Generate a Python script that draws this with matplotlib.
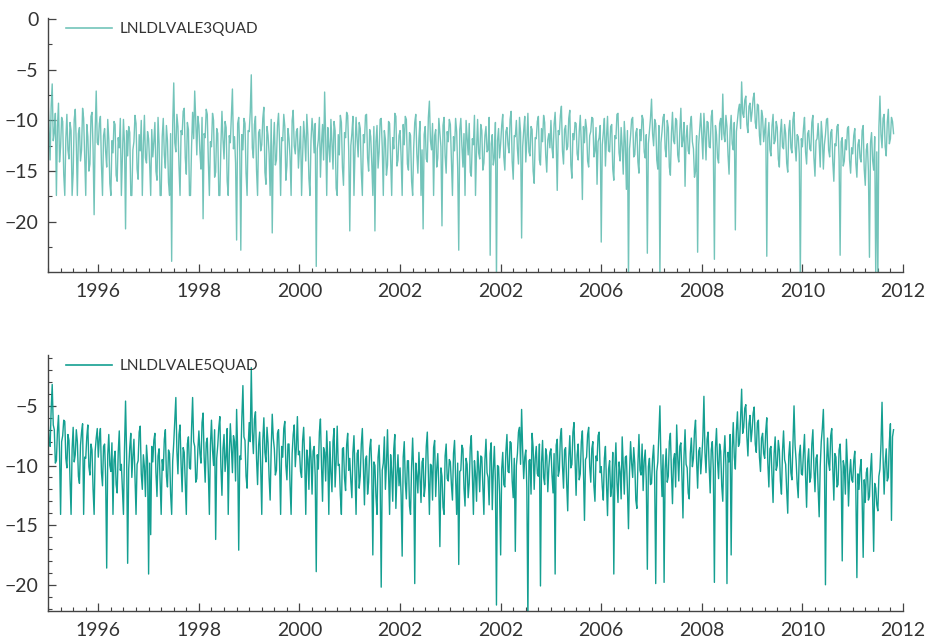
import numpy as np
import matplotlib
matplotlib.use("Agg")
import matplotlib.pyplot as plt
from matplotlib.ticker import MultipleLocator, FixedLocator

plt.rcParams['font.family'] = ['Lato', 'DejaVu Sans']

# LNLDLVALE3QUAD, ~48 readings per year
t1995 = [-7.8, -10.9, -13.9, -8.6, -6.4, -12.0, -11.2, -9.3, -17.4, -10.6, -8.3, -14.1,
         -12.6, -9.7, -10.1, -15.3, -17.4, -11.8, -9.4, -12.9, -13.8, -10.2, -11.0, -17.4,
         -15.2, -9.9, -8.9, -12.4, -17.4, -11.3, -10.7, -14.0, -12.9, -8.8, -9.8, -13.5,
         -17.4, -10.4, -11.6, -15.0, -14.3, -9.6, -9.2, -12.8, -19.3, -11.1, -7.1, -12.2]
t1996 = [-12.4, -10.3, -9.6, -14.4, -17.4, -11.5, -10.8, -13.1, -14.6, -9.9, -11.9, -16.2,
         -17.4, -12.0, -13.2, -10.1, -10.4, -15.4, -16.0, -11.7, -12.7, -9.8, -17.4, -13.6,
         -9.9, -12.3, -20.7, -11.0, -13.5, -10.6, -11.2, -17.4, -17.4, -12.9, -12.1, -9.5,
         -10.3, -14.8, -15.8, -11.4, -13.0, -10.0, -17.4, -12.5, -9.5, -13.7, -14.2, -11.1]
t1997 = [-11.8, -14.3, -17.4, -10.9, -13.6, -12.1, -10.2, -15.0, -15.9, -9.7, -12.3, -17.4,
         -17.4, -11.6, -9.8, -13.4, -14.7, -10.5, -12.0, -16.1, -17.4, -11.3, -23.9, -10.4,
         -6.3, -12.2, -13.1, -9.4, -10.6, -14.5, -17.4, -11.0, -11.4, -9.1, -8.8, -13.7,
         -15.3, -10.2, -10.9, -17.4, -17.4, -12.6, -9.2, -11.8, -7.1, -10.0, -13.4, -9.6]
t1998 = [-10.5, -13.2, -14.8, -9.7, -19.7, -11.3, -11.7, -8.9, -9.4, -14.0, -17.4, -12.1,
         -12.6, -9.3, -10.0, -15.6, -15.1, -10.8, -11.3, -17.4, -17.4, -12.4, -9.1, -11.9,
         -13.8, -10.1, -10.7, -16.0, -17.4, -11.5, -12.2, -9.6, -6.9, -12.8, -11.6, -14.2,
         -21.8, -10.3, -9.7, -13.1, -22.8, -11.4, -12.9, -9.8, -10.3, -15.2, -17.4, -11.0]
t1999 = [-11.1, -9.2, -5.5, -12.7, -13.7, -10.4, -9.6, -14.9, -17.4, -11.2, -10.9, -13.0,
         -12.4, -9.8, -8.7, -15.1, -16.3, -10.6, -11.5, -13.3, -17.4, -9.9, -21.1, -12.6,
         -10.2, -14.4, -13.9, -10.5, -9.3, -12.2, -17.4, -11.7, -12.0, -9.4, -10.6, -15.9,
         -14.5, -10.8, -11.8, -13.6, -17.4, -10.0, -9.0, -12.5, -13.3, -11.1, -10.8, -14.7]
t2000 = [-12.7, -10.6, -17.4, -13.5, -10.1, -11.8, -14.0, -9.4, -11.4, -15.7, -17.4, -12.0,
         -9.8, -11.1, -13.2, -10.3, -24.4, -12.8, -11.9, -9.7, -15.6, -12.3, -10.4, -13.9,
         -7.2, -11.6, -17.4, -10.7, -12.5, -14.1, -9.9, -12.2, -14.8, -10.1, -11.0, -16.7,
         -17.4, -11.4, -13.4, -9.5, -10.2, -14.6, -16.4, -11.2, -11.7, -9.2, -9.5, -13.0]
t2001 = [-20.9, -12.5, -11.3, -9.6, -17.4, -13.0, -9.7, -11.8, -13.6, -10.2, -10.8, -15.1,
         -17.4, -11.4, -12.2, -9.5, -9.4, -13.7, -15.0, -10.9, -11.6, -14.2, -17.4, -10.6,
         -20.9, -12.1, -10.5, -14.7, -13.1, -9.9, -9.8, -12.7, -17.4, -11.0, -11.9, -15.4,
         -14.4, -10.1, -10.3, -13.8, -17.4, -11.7, -12.8, -9.3, -9.6, -14.5, -13.9, -11.5]
t2002 = [-11.0, -13.6, -17.4, -10.4, -12.4, -9.6, -9.9, -14.3, -14.9, -11.2, -11.5, -16.0,
         -17.4, -12.7, -10.2, -9.4, -13.3, -15.2, -11.8, -10.1, -17.4, -12.9, -20.7, -11.4,
         -10.6, -13.8, -14.1, -9.7, -8.1, -12.0, -12.9, -10.3, -17.4, -11.5, -10.9, -14.6,
         -13.7, -9.8, -11.2, -12.6, -20.4, -10.5, -9.7, -13.5, -15.2, -11.1, -12.1, -9.9]
t2003 = [-10.4, -13.9, -17.4, -11.6, -13.0, -9.8, -11.1, -14.7, -22.8, -10.9, -9.8, -12.5,
         -14.6, -11.3, -17.4, -10.0, -11.7, -13.4, -10.3, -15.1, -15.5, -11.8, -12.4, -9.5,
         -17.4, -12.8, -9.9, -13.2, -13.8, -10.4, -11.0, -14.9, -14.2, -11.5, -10.6, -13.1,
         -12.9, -9.7, -23.3, -12.3, -11.4, -14.4, -13.6, -10.2, -25.6, -12.0, -10.8, -13.7]
t2004 = [-12.3, -10.5, -9.4, -13.6, -14.9, -11.1, -10.7, -12.4, -13.2, -9.9, -9.1, -14.0,
         -15.8, -11.5, -11.6, -10.0, -12.8, -14.3, -9.7, -11.2, -21.6, -12.6, -11.0, -9.6,
         -14.1, -12.0, -9.3, -13.1, -13.5, -10.6, -10.9, -15.0, -16.2, -11.7, -11.8, -10.1,
         -9.6, -13.9, -14.4, -10.8, -12.1, -9.5, -10.2, -13.4, -15.1, -11.9, -11.3, -12.7]
t2005 = [-10.0, -12.7, -13.7, -10.4, -9.2, -12.1, -16.9, -11.0, -11.4, -9.5, -8.6, -13.0,
         -14.3, -10.9, -10.5, -12.9, -12.6, -9.8, -9.0, -14.4, -15.7, -11.3, -11.9, -10.2,
         -10.3, -13.3, -13.9, -11.1, -9.5, -12.4, -17.8, -10.6, -12.2, -9.9, -10.8, -14.0,
         -14.6, -11.5, -11.1, -9.7, -9.8, -13.6, -13.0, -10.7, -16.3, -12.1, -11.7, -10.5]
t2006 = [-22.0, -12.4, -11.2, -9.8, -14.5, -11.7, -9.6, -13.0, -13.1, -10.6, -10.4, -14.8,
         -15.9, -11.5, -11.8, -9.4, -9.3, -13.2, -14.0, -10.7, -12.6, -15.3, -10.1, -12.2,
         -16.8, -11.0, -25.6, -12.8, -11.5, -9.9, -9.7, -13.6, -13.4, -11.2, -10.8, -14.1,
         -15.2, -10.9, -12.0, -9.5, -9.9, -13.1, -13.7, -11.4, -23.1, -12.3, -11.0, -9.8]
t2007 = [-7.9, -11.3, -12.5, -9.9, -10.3, -13.9, -14.8, -10.5, -25.6, -12.2, -11.1, -9.7,
         -9.4, -12.8, -13.6, -10.0, -10.7, -14.6, -15.4, -11.3, -9.2, -12.0, -12.3, -9.8,
         -10.0, -13.4, -14.1, -11.0, -8.8, -12.6, -11.9, -10.2, -16.5, -11.7, -10.5, -13.0,
         -13.3, -10.4, -9.6, -12.1, -12.8, -15.6, -15.0, -11.5, -23.0, -12.4, -10.9, -9.3]
t2008 = [-11.6, -13.8, -9.3, -11.2, -13.9, -10.1, -10.2, -12.6, -12.7, -9.6, -9.0, -12.9,
         -23.7, -10.5, -11.4, -13.7, -14.2, -10.3, -9.8, -11.9, -7.4, -11.3, -12.1, -9.5,
         -10.6, -13.4, -15.3, -11.0, -9.5, -12.3, -12.9, -10.2, -20.8, -11.1, -10.0, -8.9,
         -8.4, -10.8, -6.2, -9.3, -9.7, -8.0, -7.6, -10.4, -11.2, -8.6, -8.3, -10.1]
t2009 = [-9.1, -7.8, -7.3, -10.2, -10.8, -8.4, -8.5, -11.5, -12.4, -9.0, -9.6, -12.1,
         -11.0, -9.8, -23.4, -11.7, -10.2, -12.9, -13.5, -10.5, -9.4, -12.3, -12.0, -10.1,
         -10.7, -13.8, -14.6, -11.2, -9.9, -12.6, -12.8, -10.4, -11.3, -14.2, -15.1, -11.0,
         -10.0, -12.7, -13.2, -9.9, -9.2, -12.5, -14.0, -11.4, -11.6, -13.3, -25.6, -11.8]
t2010 = [-12.6, -10.8, -9.7, -13.1, -14.3, -11.3, -11.0, -12.8, -13.0, -10.2, -9.5, -13.7,
         -15.5, -12.0, -11.8, -10.3, -12.2, -14.6, -10.1, -11.6, -14.8, -12.4, -11.4, -9.9,
         -9.8, -12.9, -13.6, -11.2, -10.9, -14.1, -16.0, -12.3, -12.5, -10.6, -10.4, -13.8,
         -23.3, -12.1, -11.7, -14.5, -14.0, -11.9, -12.9, -10.8, -10.6, -13.9, -15.2, -12.7]
t2011 = [-13.3, -11.5, -10.8, -14.2, -15.6, -12.4, -11.9, -13.7, -14.1, -11.0, -10.5, -14.8,
         -16.4, -12.9, -12.3, -15.0, -23.5, -12.2, -11.2, -13.9, -14.9, -11.6, -25.6, -13.1,
         -25.6, -10.7, -7.6, -11.4, -12.7, -9.8, -9.4, -12.6, -13.5, -10.2, -8.9, -12.3,
         -11.8, -9.7, -10.1, -11.3]

# LNLDLVALE5QUAD
b1995 = [-6.1, -7.9, -8.4, -5.3, -3.2, -6.6, -7.0, -9.8, -9.6, -7.1, -5.8, -8.9,
         -14.1, -8.0, -7.5, -6.2, -6.3, -9.4, -10.2, -7.4, -7.9, -11.2, -14.1, -8.6,
         -6.8, -9.7, -9.1, -7.0, -8.0, -10.9, -11.5, -8.3, -7.2, -6.5, -14.1, -9.3,
         -9.4, -7.6, -6.6, -10.1, -10.8, -8.2, -8.7, -12.0, -14.1, -8.8, -7.7, -6.9]
b1996 = [-9.3, -7.7, -6.9, -10.6, -11.7, -8.4, -8.2, -11.0, -18.6, -9.1, -7.4, -10.0,
         -10.5, -8.1, -14.1, -9.5, -8.8, -11.6, -12.3, -8.9, -7.1, -10.4, -9.9, -12.1,
         -14.1, -8.6, -4.6, -9.0, -18.2, -10.3, -8.5, -7.3, -11.0, -9.2, -7.8, -10.8,
         -14.1, -9.9, -9.6, -7.2, -6.7, -10.7, -12.0, -9.1, -10.1, -12.6, -8.3, -9.7]
b1997 = [-19.1, -9.8, -15.8, -8.4, -9.7, -7.9, -7.3, -10.6, -12.6, -9.2, -8.6, -11.3,
         -14.1, -9.5, -10.4, -7.8, -7.0, -10.9, -11.8, -8.7, -9.0, -12.4, -14.1, -9.6,
         -8.1, -6.2, -4.3, -8.8, -10.7, -7.4, -6.6, -9.9, -12.2, -8.5, -8.9, -11.5,
         -14.1, -8.2, -7.6, -10.2, -10.3, -6.9, -4.3, -8.0, -8.4, -11.4, -11.1, -8.7]
b1998 = [-7.1, -9.0, -9.8, -6.4, -5.6, -9.3, -11.4, -8.1, -7.7, -10.6, -14.1, -8.3,
         -6.2, -8.7, -10.0, -7.0, -16.2, -9.4, -8.3, -6.8, -5.9, -10.1, -12.5, -8.6,
         -7.4, -10.5, -9.2, -6.9, -14.1, -9.1, -6.5, -8.4, -10.6, -7.5, -8.0, -11.3,
         -5.3, -8.8, -17.1, -9.2, -9.5, -6.0, -3.3, -7.6, -7.9, -10.9, -11.9, -8.5]
b1999 = [-6.4, -8.0, -1.8, -7.2, -9.0, -6.1, -5.5, -9.4, -11.6, -8.3, -7.2, -10.2,
         -14.1, -7.9, -6.0, -8.9, -9.7, -6.8, -8.1, -11.0, -12.9, -8.6, -5.7, -7.7,
         -8.6, -10.8, -10.4, -7.3, -7.0, -9.8, -14.1, -8.4, -9.3, -6.9, -6.3, -10.0,
         -11.2, -8.2, -8.2, -11.7, -14.1, -9.0, -7.4, -6.6, -10.1, -8.5, -5.9, -9.1]
b2000 = [-8.8, -10.5, -11.0, -7.9, -6.8, -9.6, -14.1, -8.7, -9.5, -12.0, -7.6, -9.3,
         -12.4, -8.8, -8.4, -10.9, -18.9, -9.1, -10.3, -7.2, -6.1, -9.9, -13.0, -8.5,
         -8.9, -11.3, -7.1, -9.4, -14.1, -8.0, -10.6, -12.2, -8.0, -6.9, -11.8, -9.7,
         -6.7, -10.0, -9.9, -12.5, -14.1, -8.6, -8.5, -11.1, -12.1, -8.3, -7.3, -10.4]
b2001 = [-9.4, -11.3, -12.7, -8.9, -7.5, -10.6, -14.1, -9.0, -8.7, -11.9, -10.9, -8.2,
         -6.9, -10.1, -13.3, -9.5, -9.2, -12.4, -11.4, -8.6, -7.8, -10.3, -17.5, -9.7,
         -10.0, -12.6, -14.1, -9.3, -8.3, -11.2, -20.2, -10.4, -9.8, -7.6, -12.0, -9.9,
         -7.0, -10.7, -14.1, -9.1, -10.5, -13.0, -8.6, -7.4, -13.6, -10.8, -9.1, -11.7]
b2002 = [-10.2, -12.5, -17.6, -9.3, -8.0, -11.4, -12.8, -9.6, -9.6, -13.4, -14.1, -10.1,
         -7.7, -10.6, -19.9, -9.8, -10.8, -12.3, -8.9, -11.0, -13.1, -9.7, -9.4, -12.6,
         -11.7, -8.4, -7.2, -10.5, -14.1, -9.9, -10.0, -12.9, -8.5, -7.9, -12.6, -10.3,
         -9.0, -11.8, -16.8, -10.2, -10.9, -13.5, -14.1, -9.2, -8.2, -11.1, -11.3, -9.5]
b2003 = [-9.7, -11.6, -12.9, -9.0, -7.9, -10.9, -14.1, -9.8, -18.3, -10.5, -10.4, -8.3,
         -8.6, -11.9, -13.4, -9.4, -9.9, -12.7, -11.5, -8.5, -7.5, -10.8, -14.1, -9.6,
         -10.7, -13.0, -8.8, -10.1, -12.2, -9.2, -9.3, -11.8, -14.1, -9.5, -7.8, -10.6,
         -11.0, -13.3, -9.0, -8.1, -13.7, -10.4, -8.4, -11.4, -21.7, -10.0, -10.1, -12.4]
b2004 = [-17.5, -10.3, -8.9, -11.6, -11.8, -8.8, -7.4, -10.5, -10.6, -8.0, -8.1, -11.3,
         -12.7, -9.4, -17.2, -10.0, -9.0, -7.2, -6.8, -9.9, -5.3, -8.7, -11.1, -9.3,
         -8.7, -11.9, -23.0, -9.6, -9.5, -12.4, -7.3, -8.5, -12.0, -9.4, -8.4, -10.7,
         -10.9, -8.2, -20.1, -9.8, -7.9, -11.0, -11.6, -8.6, -9.2, -12.2, -10.2, -8.9]
b2005 = [-8.6, -10.8, -12.3, -9.0, -19.1, -8.3, -7.8, -10.9, -10.4, -7.6, -6.9, -10.0,
         -11.9, -8.7, -8.5, -11.5, -13.8, -9.4, -7.5, -10.2, -9.9, -7.2, -6.4, -9.6,
         -12.5, -9.1, -8.2, -11.2, -10.7, -8.0, -7.1, -10.3, -14.6, -9.5, -9.3, -7.4,
         -6.8, -10.1, -11.4, -8.6, -8.0, -11.7, -13.0, -9.2, -9.6, -7.5, -7.2, -10.6]
b2006 = [-10.1, -11.8, -12.9, -9.4, -8.4, -11.5, -14.2, -10.3, -9.6, -12.6, -11.7, -8.9,
         -19.1, -10.2, -8.1, -11.4, -13.1, -9.7, -10.5, -12.8, -7.6, -10.0, -12.4, -9.3,
         -9.2, -12.0, -15.3, -10.6, -8.0, -9.8, -11.0, -8.5, -9.8, -12.9, -13.6, -9.9,
         -7.4, -10.4, -10.8, -8.2, -12.1, -9.6, -8.7, -11.3, -18.7, -10.1, -9.4, -11.6]
b2007 = [-11.5, -9.4, -8.3, -11.0, -19.9, -10.5, -9.7, -7.4, -5.0, -9.8, -12.6, -9.1,
         -19.8, -10.3, -8.6, -11.4, -10.9, -8.0, -7.3, -10.6, -13.2, -9.5, -9.0, -11.8,
         -6.6, -9.3, -11.3, -8.4, -8.1, -10.8, -14.4, -9.2, -7.0, -9.9, -10.2, -12.3,
         -12.8, -9.0, -7.7, -10.1, -9.4, -7.1, -6.2, -9.6, -11.9, -8.8, -8.5, -10.7]
b2008 = [-9.3, -7.6, -4.2, -8.9, -10.6, -7.8, -7.2, -10.1, -12.3, -8.7, -8.0, -10.4,
         -19.8, -8.5, -6.9, -9.6, -11.1, -8.2, -8.8, -11.7, -13.0, -9.1, -7.5, -10.0,
         -19.9, -8.9, -9.7, -7.4, -17.5, -8.6, -6.4, -9.3, -10.3, -7.1, -5.5, -8.4,
         -8.1, -6.0, -3.6, -7.3, -6.8, -5.2, -4.9, -7.6, -9.2, -6.5, -5.8, -8.0]
b2009 = [-7.0, -5.6, -5.1, -8.2, -8.9, -6.4, -6.2, -9.3, -10.5, -7.7, -7.3, -9.0,
         -9.4, -7.1, -6.0, -9.8, -11.8, -8.6, -8.4, -10.9, -13.1, -9.0, -7.6, -10.4,
         -10.0, -7.9, -8.7, -11.3, -12.4, -8.8, -7.1, -9.5, -9.9, -12.1, -14.0, -9.2,
         -8.0, -10.6, -11.2, -8.1, -5.0, -8.3, -9.6, -11.5, -12.7, -9.1, -8.3, -10.7]
b2010 = [-10.8, -8.9, -7.4, -10.9, -13.5, -9.7, -8.6, -11.4, -11.0, -8.2, -7.0, -10.3,
         -12.2, -9.4, -9.1, -11.9, -14.3, -10.1, -8.0, -6.9, -5.3, -9.2, -20.0, -10.0,
         -7.7, -9.8, -10.4, -7.5, -6.9, -10.2, -12.9, -9.0, -9.3, -11.8, -11.6, -8.7,
         -8.2, -10.5, -18.0, -9.6, -10.1, -12.4, -7.8, -9.9, -13.4, -10.8, -9.5, -11.2]
b2011 = [-11.4, -9.6, -8.8, -12.1, -19.4, -10.7, -12.0, -10.3, -9.5, -12.8, -17.7, -11.2,
         -13.1, -10.6, -10.2, -12.9, -12.6, -10.4, -9.0, -12.5, -17.2, -11.5, -11.9, -13.3,
         -13.8, -10.9, -10.3, -8.2, -4.7, -9.4, -12.4, -9.8, -8.6, -11.3, -11.0, -8.0,
         -6.5, -14.6, -7.6, -7.0]

top_vals = np.array(t1995 + t1996 + t1997 + t1998 + t1999 + t2000 + t2001 + t2002 + t2003
                    + t2004 + t2005 + t2006 + t2007 + t2008 + t2009 + t2010 + t2011)
bot_vals = np.array(b1995 + b1996 + b1997 + b1998 + b1999 + b2000 + b2001 + b2002 + b2003
                    + b2004 + b2005 + b2006 + b2007 + b2008 + b2009 + b2010 + b2011)

# decimal years, 48 readings per year from 1995
top_x = 1995 + np.arange(len(top_vals)) / 48.0
bot_x = 1995 + np.arange(len(bot_vals)) / 48.0

year_ticks = [1996, 1998, 2000, 2002, 2004, 2006, 2008, 2010, 2012]
year_labels = ['1996', '1998', '2000', '2002', '2002', '2006', '2008', '2010', '2012']

axis_col = '#444444'
text_col = '#333333'

fig = plt.figure(figsize=(9.27, 6.38), dpi=100)
ax1 = fig.add_axes([0.0518, 0.5737, 0.9223, 0.398])
ax2 = fig.add_axes([0.0518, 0.0423, 0.9223, 0.401])

ax1.plot(top_x, top_vals, color='#5bbaae', lw=1.0, alpha=0.85, label='LNLDLVALE3QUAD')
ax2.plot(bot_x, bot_vals, color='#079a8b', lw=1.0, alpha=0.95, label='LNLDLVALE5QUAD')

ax1.set_ylim(-24.95, 0.1)
ax2.set_ylim(-22.2, -0.75)
ax1.yaxis.set_major_locator(MultipleLocator(5))
ax1.yaxis.set_minor_locator(MultipleLocator(2.5))
ax2.yaxis.set_major_locator(MultipleLocator(5))
ax2.yaxis.set_minor_locator(MultipleLocator(1))

for ax in (ax1, ax2):
    ax.set_xlim(1995, 2012)
    ax.xaxis.set_major_locator(FixedLocator(year_ticks))
    ax.set_xticklabels(year_labels)
    ax.xaxis.set_minor_locator(MultipleLocator(0.25))
    for s in ('top', 'right'):
        ax.spines[s].set_visible(False)
    for s in ('left', 'bottom'):
        ax.spines[s].set_color(axis_col)
        ax.spines[s].set_linewidth(1.0)
    ax.tick_params(which='major', direction='in', length=6, width=0.9, color=axis_col,
                   labelsize=14, labelcolor=text_col)
    ax.tick_params(which='minor', direction='in', length=3, width=0.8, color=axis_col)
    ax.tick_params(axis='x', which='major', pad=8)
    ax.tick_params(axis='y', which='major', pad=7)
    leg = ax.legend(loc='upper left', frameon=False, fontsize=11, handlelength=3.0,
                    handletextpad=0.5, borderaxespad=0.2, labelcolor=text_col,
                    bbox_to_anchor=(0.01, 1.02))
    for h in leg.get_lines():
        h.set_linewidth(1.2)

fig.savefig('out.png', dpi=100)
